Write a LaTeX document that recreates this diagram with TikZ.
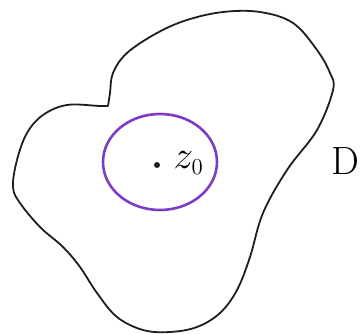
\documentclass[tikz,border=0pt]{standalone}
\usetikzlibrary{positioning}
\definecolor{Ink}{HTML}{1E1E1E}
\definecolor{Violet}{HTML}{7B3CC6}

\begin{document}
\begin{tikzpicture}[x=1pt,y=-1pt,
  region/.style={draw=Ink,line width=1.8pt,line join=round,line cap=round},
  disk/.style={draw=Violet,line width=2.6pt},
  pt/.style={circle,fill=Ink,inner sep=0pt,minimum size=6pt},
  lbl/.style={font=\huge,scale=1.9,inner sep=0pt}]
\useasboundingbox (0,0) rectangle (364,334);
% the region D, with its notch at the top left
\draw[region] plot[smooth,tension=0.6] coordinates {
  (108,106) (100,106) (67,105) (43,115) (27,133) (17,160) (13,187)
  (20,203) (40,227) (63,247) (80,267) (97,293) (117,317) (143,330)
  (170,332) (197,327) (220,313) (237,290) (250,257) (263,213)
  (287,170) (317,130) (333,90) (330,73) (317,50) (293,23) (260,12)
  (223,12) (187,20) (157,33) (127,53) (113,73) (110,93) (108,106)};
% disc round z0
\draw[disk] (160,162) ellipse [x radius=57, y radius=48];
\node[pt] (z0) at (157,165) {};
\node[lbl,right=13pt of z0,yshift=1pt] (z0lbl) {$z_{\scriptscriptstyle 0}$};
\node[lbl] (D) at (345,161) {D};
\end{tikzpicture}
\end{document}
